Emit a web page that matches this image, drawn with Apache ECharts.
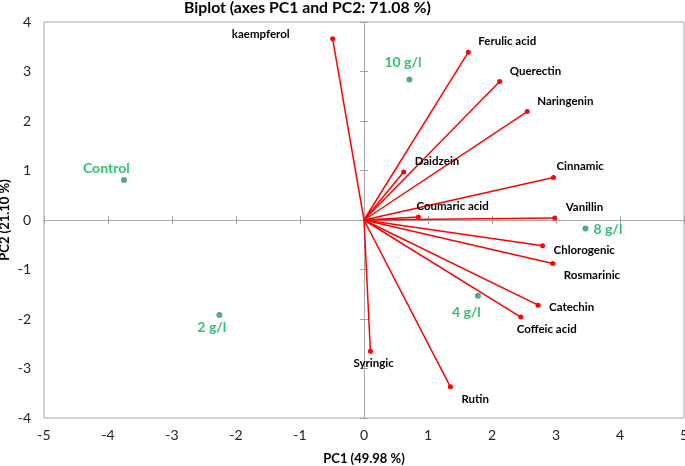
<!DOCTYPE html>
<html>
<head>
<meta charset="utf-8">
<script src="https://cdn.jsdelivr.net/npm/echarts@6/dist/echarts.min.js"></script>
<style>html,body{margin:0;padding:0;background:#fff}#c{width:685px;height:466px}</style>
</head>
<body>
<div id="c"></div>
<script>
// Variable loadings (red vectors)
const varNames = ['kaempferol','Ferulic acid','Querectin','Naringenin','Daidzein','Cinnamic','Coumaric acid','Vanillin','Chlorogenic','Rosmarinic','Catechin','Coffeic acid','Syringic','Rutin'];
const varPC1 = [-0.49, 1.63, 2.12, 2.55, 0.62, 2.96, 0.85, 2.98, 2.79, 2.95, 2.72, 2.45, 0.10, 1.35];
const varPC2 = [3.66, 3.39, 2.80, 2.19, 0.97, 0.86, 0.06, 0.04, -0.52, -0.88, -1.72, -1.96, -2.65, -3.37];
// Observations (treatments)
const obsNames = ['Control','2 g/l','10 g/l','8 g/l','4 g/l'];
const obsPC1 = [-3.75, -2.26, 0.71, 3.46, 1.78];
const obsPC2 = [0.81, -1.92, 2.84, -0.17, -1.53];
// Axis ticks
const xTicks = [-5,-4,-3,-2,-1,0,1,2,3,4,5];
const yTicks = [-4,-3,-2,-1,0,1,2,3,4];

// Label placement (layout only)
const varLabelLayout = [
  {align:'right', offset:[-43,-5]},
  {align:'left', offset:[10,-10.6]},
  {align:'left', offset:[10,-10.6]},
  {align:'left', offset:[10,-10.7]},
  {align:'left', offset:[11,-10.6]},
  {align:'left', offset:[3,-11]},
  {align:'left', offset:[-2,-11]},
  {align:'left', offset:[11,-10.6]},
  {align:'left', offset:[11,5]},
  {align:'left', offset:[11,12]},
  {align:'left', offset:[11,2.4]},
  {align:'left', offset:[-4,12]},
  {align:'left', offset:[-17,12]},
  {align:'left', offset:[11,12]}
];
const obsLabelLayout = [[-41,-11],[-22,12],[-25,-17],[8,1],[-26,17]];

const FONT = 'Lato, "Open Sans", sans-serif';
const chart = echarts.init(document.getElementById('c'), null, {renderer:'canvas'});

const xMin = xTicks[0], xMax = xTicks[xTicks.length-1];
const yMin = yTicks[0], yMax = yTicks[yTicks.length-1];

function baseX(extra){
  return Object.assign({type:'value', min:xMin, max:xMax, interval:1, position:'bottom',
    splitLine:{show:false}, axisTick:{show:false}, axisLabel:{show:false}, axisLine:{show:false}}, extra);
}
function baseY(extra){
  return Object.assign({type:'value', min:yMin, max:yMax, interval:1, position:'left',
    splitLine:{show:false}, axisTick:{show:false}, axisLabel:{show:false}, axisLine:{show:false}}, extra);
}
const axisGray = '#a6a6a6';

const series = [];
varNames.forEach((n,i)=>{
  const lay = varLabelLayout[i];
  series.push({
    type:'line', name:n, xAxisIndex:0, yAxisIndex:0,
    data:[
      {value:[0,0], symbol:'none'},
      {value:[varPC1[i], varPC2[i]], label:{show:true, formatter:n, position:'inside', align:lay.align, verticalAlign:'middle', offset:lay.offset,
        color:'#000', fontWeight:'bold', fontSize:11.5, fontFamily:FONT}}
    ],
    symbol:'circle', symbolSize:5, showSymbol:true,
    lineStyle:{color:'#ff0000', width:1.5},
    itemStyle:{color:'#ff0000'},
    silent:true, animation:false, z:3
  });
});
series.push({
  type:'scatter', name:'obs', xAxisIndex:0, yAxisIndex:0,
  data: obsNames.map((n,i)=>({value:[obsPC1[i], obsPC2[i]], label:{show:true, formatter:n, position:'inside', align:'left', verticalAlign:'middle', offset:obsLabelLayout[i],
    color:'#00b050', fontWeight:'bold', fontSize:14, fontFamily:FONT}})),
  symbol:'circle', symbolSize:6,
  itemStyle:{color:'#2a8f7c'},
  animation:false, z:4
});

chart.setOption({
  animation:false,
  title:{text:'Biplot (axes PC1 and PC2: 71.08 %)', left:184, top:0, padding:0,
    textStyle:{fontSize:15.8, fontWeight:'bold', color:'#000', fontFamily:FONT}},
  grid:{left:44, right:1, top:22, bottom:48, show:true, borderColor:axisGray, borderWidth:1, containLabel:false, outerBoundsMode:'none'},
  xAxis:[
    baseX({axisLabel:{show:true, margin:10, fontSize:14, color:'#222', fontFamily:FONT, showMinLabel:true, showMaxLabel:true, hideOverlap:false},
      name:'PC1 (49.98 %)', nameLocation:'middle', nameGap:34, nameMoveOverlap:false,
      nameTextStyle:{fontSize:13, fontWeight:'bold', color:'#000', fontFamily:FONT}}),
    baseX({axisLine:{show:true, onZero:true, onZeroAxisIndex:0, lineStyle:{color:axisGray, width:1}},
      axisTick:{show:true, inside:false, length:4, lineStyle:{color:axisGray}}}),
    baseX({axisLine:{show:false, onZero:true, onZeroAxisIndex:0},
      axisTick:{show:true, inside:true, length:4, lineStyle:{color:axisGray}}})
  ],
  yAxis:[
    baseY({axisLabel:{show:true, margin:13, fontSize:14, color:'#222', fontFamily:FONT, showMinLabel:true, showMaxLabel:true, hideOverlap:false},
      name:'PC2 (21.10 %)', nameLocation:'middle', nameGap:33, nameRotate:90, nameMoveOverlap:false,
      nameTextStyle:{fontSize:13, fontWeight:'bold', color:'#000', fontFamily:FONT}}),
    baseY({axisLine:{show:true, onZero:true, onZeroAxisIndex:0, lineStyle:{color:axisGray, width:1}},
      axisTick:{show:true, inside:false, length:4, lineStyle:{color:axisGray}}}),
    baseY({axisLine:{show:false, onZero:true, onZeroAxisIndex:0},
      axisTick:{show:true, inside:true, length:4, lineStyle:{color:axisGray}}})
  ],
  series: series
});
</script>
</body>
</html>
